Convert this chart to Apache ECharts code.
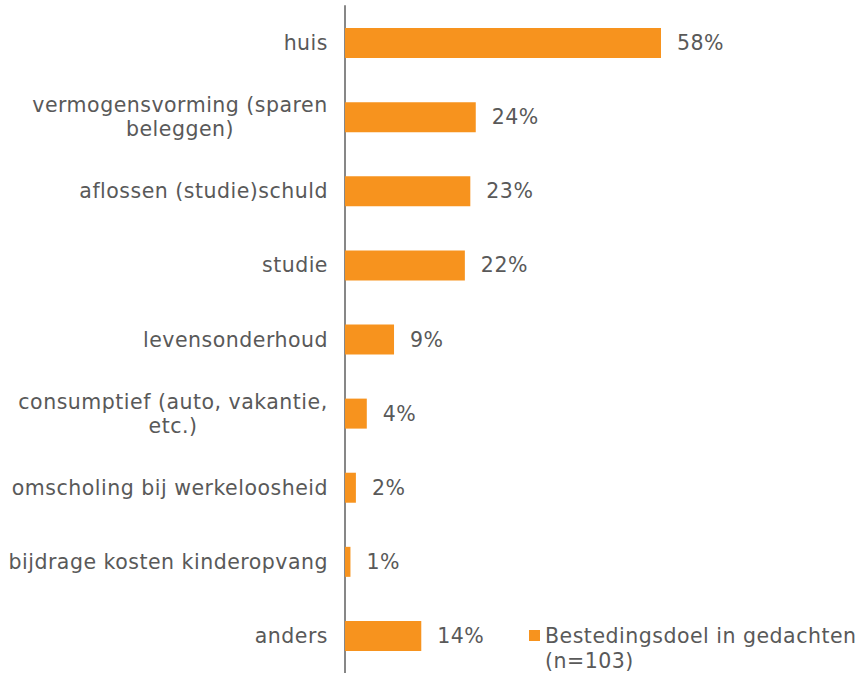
<!DOCTYPE html>
<html><head><meta charset="utf-8">
<script src="https://cdn.jsdelivr.net/npm/echarts@6/dist/echarts.min.js"></script>
<style>html,body{margin:0;padding:0;background:#fff}#c{width:858px;height:673px}
#c svg text{letter-spacing:0.5px}</style>
</head><body><div id="c"></div>
<script>
var categories = ['huis','vermogensvorming (sparen\nbeleggen)','aflossen (studie)schuld','studie','levensonderhoud','consumptief (auto, vakantie,\netc.)','omscholing bij werkeloosheid','bijdrage kosten kinderopvang','anders'];
var values = [58,24,23,22,9,4,2,1,14];
var seriesName = 'Bestedingsdoel in gedachten\n(n=103)';

var FONT = 'DejaVu Sans';
var FS = 20.5;
var LS = 0.5;
var ctx = document.createElement('canvas').getContext('2d');
ctx.font = FS + 'px "' + FONT + '"';
var maxW = {};
categories.forEach(function(v){
  var w = 0;
  v.split('\n').forEach(function(l){ w = Math.max(w, ctx.measureText(l).width + LS * l.length); });
  maxW[v] = Math.ceil(w);
});
function fmtLabel(v){
  var lines = v.split('\n');
  if (lines.length === 1) return v;
  return lines.map(function(l){ return '{c|' + l + '}'; }).join('\n');
}

var chart = echarts.init(document.getElementById('c'), null, {renderer:'svg'});
chart.setOption({
  animation:false,
  textStyle:{fontFamily:FONT},
  grid:{left:345, top:6, width:316, height:670},
  xAxis:{type:'value', min:0, max:58, show:false},
  yAxis:{type:'category', inverse:true,
    data: categories.map(function(v){
      if (v.indexOf('\n') < 0) return v;
      return {value:v, textStyle:{rich:{c:{width:maxW[v], align:'center', fontSize:FS, color:'#595959', lineHeight:24, fontFamily:FONT}}}};
    }),
    axisLine:{show:true, lineStyle:{color:'#878787', width:2}},
    axisTick:{show:false},
    axisLabel:{color:'#595959', fontSize:FS, margin:17, lineHeight:24, fontFamily:FONT,
      formatter:function(v){ return fmtLabel(v); }}
  },
  legend:{left:524, top:593, itemWidth:11, itemHeight:11, icon:'rect',
    data:[seriesName],
    formatter:function(n){ return '\n' + n; },
    textStyle:{color:'#595959', fontSize:FS, lineHeight:25, fontFamily:FONT}},
  series:[{type:'bar', name:seriesName, data:values, barWidth:30,
    itemStyle:{color:'#F7931E'},
    label:{show:true, position:'right', distance:16, color:'#595959', fontSize:FS, fontFamily:FONT,
      formatter:function(p){return p.value+'%';}}}]
});
</script></body></html>
